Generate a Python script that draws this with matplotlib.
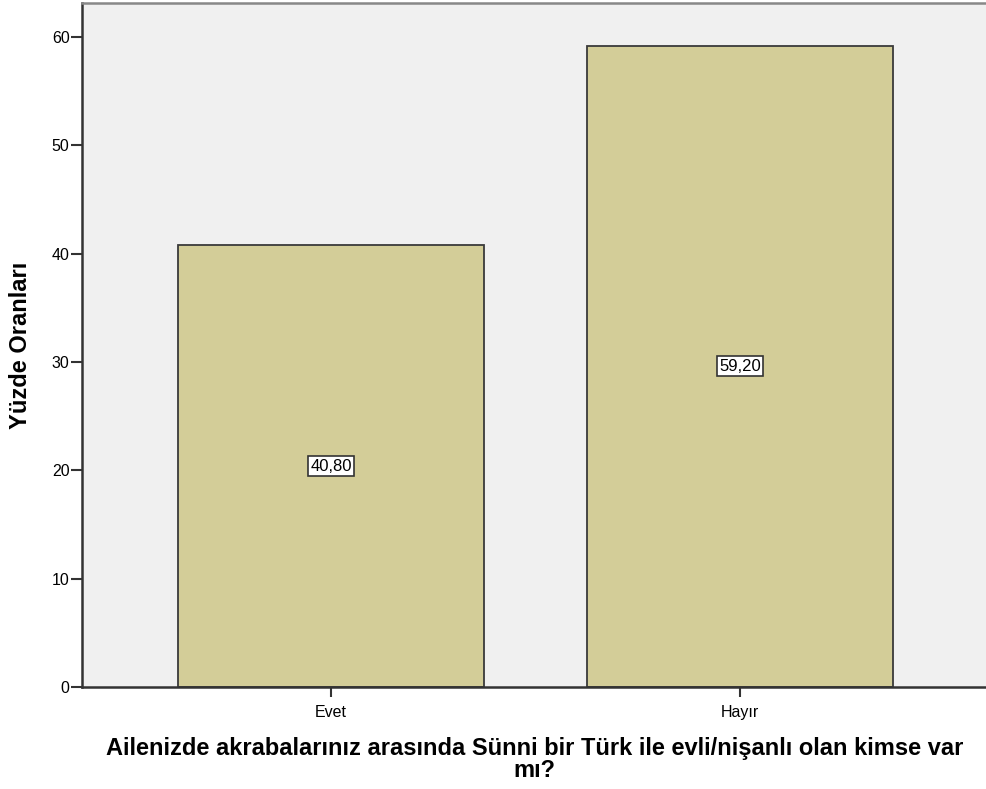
## Bar chart of yes/no answers, SPSS style
import numpy as np
import matplotlib.pyplot as plt

plt.rcParams['font.family'] = ['Liberation Sans', 'DejaVu Sans']

## Data
categories = ["Evet", "Hayır"]
percentages = [40.80, 59.20]
value_labels = ["40,80", "59,20"]
yticks = [0, 10, 20, 30, 40, 50, 60]

x_label = "Ailenizde akrabalarınız arasında Sünni bir Türk ile evli/nişanlı olan kimse var\nmı?"
y_label = "Yüzde Oranları"

## Plot
fig = plt.figure(figsize=(9.87, 7.89), dpi=100)
ax = fig.add_axes([0.0831, 0.1293, 0.9169, 0.8669])
ax.set_facecolor("#f0f0f0")

xpos = np.arange(len(categories))
ax.bar(xpos, percentages, width=0.75, color="#d3cd98",
       edgecolor="#3a3a3a", linewidth=1.3, zorder=2)

# Value labels in white boxes at bar mid-height
for x, v, lab in zip(xpos, percentages, value_labels):
    ax.text(x, v / 2, lab, ha="center", va="center", fontsize=12,
            bbox=dict(boxstyle="square,pad=0.15", facecolor="white",
                      edgecolor="#333333", linewidth=1.2), zorder=3)

ax.set_xlim(-0.609, 1.604)
ax.set_ylim(0, 63.15)
ax.set_xticks(xpos)
ax.set_xticklabels(categories, fontsize=11.5)
ax.set_yticks(yticks)
ax.tick_params(axis="y", labelsize=11.5, length=8, width=1.5, color="#333333", pad=1)
ax.tick_params(axis="x", length=7, width=1.5, color="#333333", pad=6)

for side in ["left", "bottom"]:
    ax.spines[side].set_color("#333333")
    ax.spines[side].set_linewidth(1.8)
ax.spines["top"].set_color("#888888")
ax.spines["top"].set_linewidth(1.8)
ax.spines["right"].set_visible(False)

ax.set_xlabel(x_label, fontsize=17, fontweight="bold", labelpad=12,
              linespacing=0.95)
ax.set_ylabel(y_label, fontsize=17, fontweight="bold", labelpad=14)

fig.savefig("out.png", dpi=100)
